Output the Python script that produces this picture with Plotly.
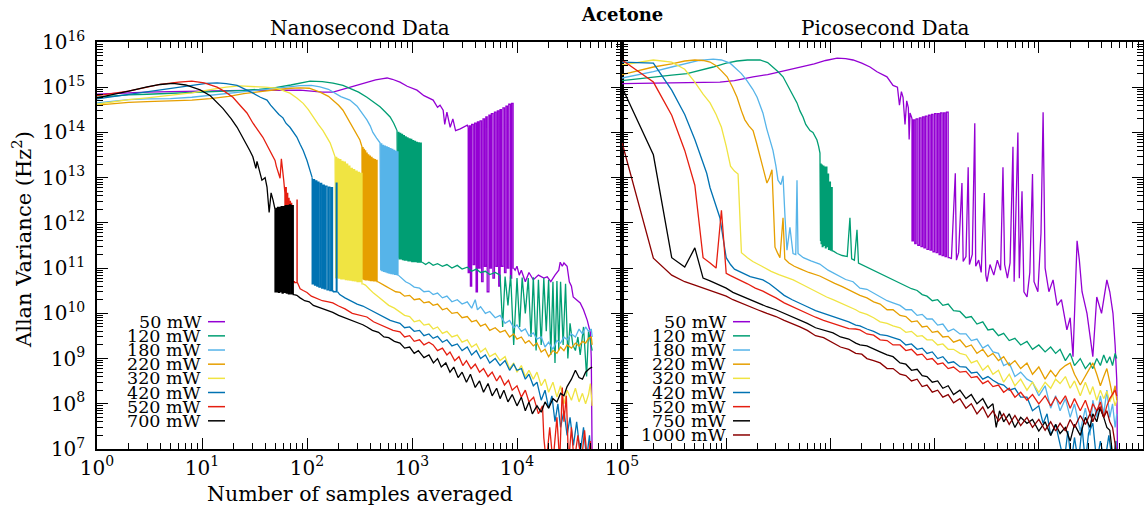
import plotly.graph_objects as go

# ---------------- labels / colours ----------------
NS_LABELS = ["50 mW", "120 mW", "180 mW", "220 mW", "320 mW", "420 mW", "520 mW", "700 mW"]
PS_LABELS = ["50 mW", "120 mW", "180 mW", "220 mW", "320 mW", "420 mW", "520 mW", "750 mW", "1000 mW"]
NS_COLORS = ["#9400D3", "#009E73", "#56B4E9", "#E69F00", "#F0E442", "#0072B2", "#E51E10", "#000000"]
PS_COLORS = ["#9400D3", "#009E73", "#56B4E9", "#E69F00", "#F0E442", "#0072B2", "#E51E10", "#000000", "#8B0000"]
X_TICKS = [1, 10, 100, 1000, 10000, 100000]
X_TICKTEXT = ["10<sup>0</sup>", "10<sup>1</sup>", "10<sup>2</sup>", "10<sup>3</sup>", "10<sup>4</sup>", "10<sup>5</sup>"]
Y_TICKS = [1e7, 1e8, 1e9, 1e10, 1e11, 1e12, 1e13, 1e14, 1e15, 1e16]
Y_TICKTEXT = ["10<sup>%d</sup>" % e for e in range(7, 17)]

# ---------------- Nanosecond data (samples, Allan variance) ----------------
NS_50 = [(1, 7e14), (2, 7.6e14), (3, 7.8e14), (5, 8e14), (8, 8.2e14), (12, 8.3e14), (18, 8.4e14), (25, 8.5e14),
         (35, 8.5e14), (50, 8.6e14), (70, 8.6e14), (86, 8.6e14), (110, 8.2e14), (140, 7.8e14), (177, 7.8e14),
         (220, 9e14), (256, 1e15), (310, 1.15e15), (372, 1.3e15), (450, 1.45e15), (530, 1.55e15), (579, 1.6e15),
         (650, 1.5e15), (768, 1.3e15), (900, 1.05e15), (1115, 8.6e14), (1300, 6.5e14), (1590, 5.2e14),
         (1750, 3.6e14), (1850, 4e14), (1980, 3.1e14), (2050, 1.5e14), (2150, 2.8e14), (2310, 1.3e14),
         (2450, 2e14), (2600, 1.1e14), (2880, 1.2e14), (3100, 1.3e14), (3360, 1.45e14),
         (3430, 1.3e14), (3500, 8e10), (3600, 1.4e14), (3700, 4e10), (3830, 1.5e14), (3950, 1.2e11),
         (4080, 1.6e14), (4200, 3e10), (4320, 1.7e14), (4450, 1e11), (4600, 1.8e14), (4750, 5e10),
         (4900, 2e14), (5050, 1.1e11), (5200, 2.2e14), (5400, 3e10), (5540, 2.4e14), (5700, 1e11),
         (5900, 2.6e14), (6100, 6e10), (6300, 2.8e14), (6500, 1.1e11), (6700, 3e14), (6900, 4e10),
         (7100, 3.2e14), (7350, 1.1e11), (7600, 3.5e14), (7850, 8e10), (8100, 3.8e14), (8350, 1e11),
         (8650, 4.2e14), (8900, 6e10), (9180, 4.4e14), (9300, 1e11),
         (9600, 9e10), (1e4, 1.1e11), (1.05e4, 7e10), (1.1e4, 9e10), (1.2e4, 5e10), (1.3e4, 8e10),
         (1.43e4, 5.5e10), (1.6e4, 7e10), (1.8e4, 6e10), (1.94e4, 6.4e10), (2.1e4, 5e10), (2.3e4, 7e10),
         (2.5e4, 9e10), (2.58e4, 1.35e11), (2.7e4, 1.1e11), (2.8e4, 1.3e11), (3e4, 1.1e11), (3.15e4, 5e10),
         (3.3e4, 4e10), (3.43e4, 2.3e10), (3.7e4, 2e10), (4e4, 1.7e10), (4.3e4, 1.2e10), (4.67e4, 7e9),
         (5e4, 3.7e9), (5.1e4, 1e9), (5.2e4, 5e6)]

NS_120 = [(1, 6e14), (2, 6.8e14), (3, 7e14), (5, 7.3e14), (8, 7.6e14), (12, 7.9e14), (18, 8.2e14), (25, 8.5e14),
          (35, 9e14), (50, 9.8e14), (70, 1.12e15), (86, 1.23e15), (107, 1.37e15), (140, 1.33e15), (177, 1.23e15),
          (220, 1.1e15), (256, 9.6e14), (310, 7.8e14), (372, 6e14), (430, 4.6e14), (496, 3.7e14), (560, 2.8e14),
          (619, 2.2e14), (670, 1.6e14), (720, 1.1e14),
          (735, 1.7e11), (750, 1e14), (765, 1.6e11), (780, 9.5e13), (796, 1.6e11), (812, 9e13), (828, 1.55e11),
          (845, 8.5e13), (862, 1.5e11), (880, 8e13), (898, 1.5e11), (916, 7.6e13), (935, 1.45e11), (955, 7.2e13),
          (975, 1.45e11), (995, 7e13), (1015, 1.4e11), (1036, 6.6e13), (1057, 1.4e11), (1080, 6.3e13),
          (1100, 1.4e11), (1125, 6e13), (1150, 1.35e11), (1175, 5.9e13), (1200, 1.35e11), (1225, 5.8e13),
          (1250, 1.35e11),
          (1350, 1.2e11), (1450, 1.35e11), (1590, 1.15e11), (1750, 1.25e11), (1950, 1.1e11), (2150, 1.2e11),
          (2400, 1e11), (2700, 1.15e11), (3000, 9.5e10), (3360, 1.05e11), (3700, 8.5e10), (4100, 9.5e10),
          (4500, 8e10), (5000, 8.5e10), (5500, 7.2e10), (6200, 8e10), (6900, 7e10), (7300, 5e9), (7700, 6.5e10),
          (8200, 1.5e10), (8700, 7e10), (9300, 2e9), (1e4, 6e10), (1.06e4, 5e9), (1.12e4, 6.2e10), (1.2e4, 1e10),
          (1.28e4, 6e10), (1.36e4, 3e9), (1.43e4, 6.3e10), (1.52e4, 1.5e9), (1.6e4, 5.5e10), (1.7e4, 2e9),
          (1.8e4, 6e10), (1.9e4, 4e9), (2e4, 5.5e10), (2.1e4, 1.2e9), (2.2e4, 5e10), (2.3e4, 8e8),
          (2.4e4, 5.2e10), (2.5e4, 1.5e9), (2.6e4, 5e10), (2.75e4, 2e9), (2.9e4, 4.5e10), (3.05e4, 1e9),
          (3.2e4, 6e9), (3.4e4, 2e9), (3.6e4, 1.5e9), (3.8e4, 3e9), (4e4, 1.2e9), (4.3e4, 5e9), (4.6e4, 4e8),
          (4.8e4, 4e9), (5e4, 2.5e9), (5.2e4, 1.5e9)]

NS_180 = [(1, 4.5e14), (2, 5.3e14), (3, 5.5e14), (5, 5.6e14), (8, 6e14), (12, 6.6e14), (18, 7.3e14), (25, 8e14),
          (35, 8.8e14), (50, 9.5e14), (70, 1.02e15), (86, 1.08e15), (110, 1.1e15), (133, 1.02e15), (160, 9e14),
          (177, 7.8e14), (210, 6.2e14), (256, 5.2e14), (300, 3.8e14), (319, 3.1e14), (350, 2.3e14),
          (372, 1.9e14), (400, 1.4e14), (424, 1e14), (460, 7.5e13), (496, 5.9e13),
          (505, 9e10), (515, 5.6e13), (525, 8.8e10), (535, 5.2e13), (546, 8.5e10), (557, 5e13), (568, 8.3e10),
          (580, 4.8e13), (592, 8e10), (604, 4.6e13), (617, 7.8e10), (630, 4.4e13), (643, 7.6e10), (656, 4.2e13),
          (670, 7.5e10), (684, 4e13), (698, 7.3e10), (712, 3.8e13), (726, 7.2e10), (735, 3.7e13), (740, 7e10),
          (800, 6e10), (870, 5e10), (950, 4.5e10), (1050, 3.8e10), (1180, 3.6e10), (1300, 3e10), (1450, 3.1e10),
          (1590, 2.6e10), (1750, 2.8e10), (1950, 2.2e10), (2150, 2.4e10), (2400, 1.8e10), (2700, 2e10),
          (3000, 1.6e10), (3360, 1.8e10), (3700, 1.3e10), (4000, 2e10), (4200, 1.2e10), (4500, 1.4e10),
          (5000, 1e10), (5500, 1.1e10), (6200, 8e9), (6900, 9e9), (7700, 6e9), (8500, 7e9), (9300, 4.8e9),
          (1e4, 5.5e9), (1.1e4, 4e9), (1.2e4, 4.5e9), (1.3e4, 3.2e9), (1.43e4, 3.7e9), (1.55e4, 2.7e9),
          (1.7e4, 3e9), (1.85e4, 1.8e9), (2e4, 2.3e9), (2.2e4, 1.6e9), (2.4e4, 2.5e9), (2.6e4, 2.2e9),
          (2.8e4, 3e9), (3e4, 2.6e9), (3.3e4, 3.5e9), (3.6e4, 3e9), (3.9e4, 4.5e9), (4.2e4, 3.5e9),
          (4.5e4, 5e9), (4.8e4, 4e9), (5.1e4, 4.5e9), (5.2e4, 3e9)]

NS_220 = [(1, 4e14), (2, 4.6e14), (3, 4.8e14), (5, 5e14), (8, 5.2e14), (12, 5.6e14), (18, 6.3e14), (25, 7.2e14),
          (35, 8e14), (50, 8.8e14), (70, 9.5e14), (86, 9.7e14), (105, 9.5e14), (133, 7.8e14), (160, 6.3e14),
          (177, 5.2e14), (200, 4e14), (220, 3.1e14), (245, 2e14), (274, 1.3e14), (300, 9e13), (319, 6.8e13),
          (334, 4.8e13),
          (338, 5.8e10), (342, 4.6e13), (347, 5.7e10), (352, 4.2e13), (357, 5.6e10), (362, 3.9e13), (368, 5.5e10),
          (374, 3.5e13), (380, 5.5e10), (387, 3.2e13), (394, 5.4e10), (401, 3e13), (408, 5.3e10), (416, 2.8e13),
          (424, 5.3e10), (432, 2.6e13), (440, 5.2e10), (448, 2.5e13), (456, 5.2e10), (465, 2.4e13), (474, 5e10),
          (500, 4.6e10), (560, 4e10), (620, 3.5e10), (700, 3e10), (768, 2.9e10), (850, 2.4e10), (950, 2.5e10),
          (1050, 2e10), (1180, 2.1e10), (1300, 1.7e10), (1450, 1.8e10), (1590, 1.5e10), (1750, 1.6e10),
          (1950, 1.2e10), (2150, 1.3e10), (2400, 1e10), (2700, 1.05e10), (3000, 8e9), (3360, 8.5e9),
          (3700, 6.5e9), (4100, 7e9), (4500, 5.2e9), (5000, 5.8e9), (5500, 4.2e9), (6200, 4.8e9), (6900, 3.8e9),
          (7700, 4.2e9), (8500, 3e9), (9300, 3.5e9), (1e4, 2.7e9), (1.1e4, 3e9), (1.2e4, 2.2e9), (1.3e4, 2.5e9),
          (1.43e4, 1.9e9), (1.55e4, 2.2e9), (1.7e4, 1.4e9), (1.85e4, 1.6e9), (2e4, 1.1e9), (2.2e4, 1.5e9),
          (2.4e4, 1.3e9), (2.6e4, 1.8e9), (2.8e4, 1.5e9), (3e4, 2e9), (3.3e4, 1.7e9), (3.6e4, 2.2e9),
          (3.9e4, 1.9e9), (4.2e4, 2.4e9), (4.5e4, 2.2e9), (4.8e4, 2.8e9), (5.1e4, 3e9), (5.2e4, 2e9)]

NS_320 = [(1, 4.2e14), (2, 5.3e14), (3, 5.8e14), (5, 6.5e14), (8, 7.5e14), (12, 8.8e14), (17, 1e15), (23, 1.07e15),
          (30, 1.05e15), (40, 1e15), (51, 9.6e14), (60, 8.5e14), (68.8, 7.4e14), (80, 5.8e14), (92, 4.4e14),
          (103, 3.2e14), (114, 2.2e14), (128, 1.5e14), (142, 1.1e14), (155, 8e13), (166, 5.9e13), (175, 4.2e13),
          (185, 2.9e13),
          (188, 6e10), (192, 2.8e13), (196, 6.2e10), (200, 2.6e13), (205, 6e10), (210, 2.5e13), (215, 5.8e10),
          (220, 2.3e13), (226, 5.8e10), (232, 2.2e13), (238, 5.6e10), (244, 2e13), (250, 5.5e10), (256, 1.8e13),
          (263, 5.4e10), (270, 1.6e13), (277, 5.3e10), (284, 1.5e13), (292, 5.2e10), (300, 1.4e13), (308, 5e10),
          (316, 1.3e13), (325, 5e10), (334, 1.25e13), (340, 4.5e10),
          (360, 4.2e10), (390, 3.5e10), (430, 2.8e10), (480, 2.3e10), (540, 1.8e10), (600, 1.5e10),
          (680, 1.3e10), (768, 1.07e10), (850, 9e9), (950, 8.5e9), (1050, 6.5e9), (1180, 7e9), (1300, 5.5e9),
          (1450, 5.8e9), (1590, 4.5e9), (1750, 5e9), (1950, 3.6e9), (2150, 4e9), (2400, 3e9), (2700, 3.3e9),
          (3000, 2.3e9), (3360, 2.6e9), (3700, 1.8e9), (4100, 2.1e9), (4500, 1.4e9), (5000, 1.7e9),
          (5500, 1.1e9), (6200, 1.3e9), (6900, 9e8), (7700, 1.1e9), (8500, 6e8), (9300, 8e8), (1e4, 5e8),
          (1.1e4, 7e8), (1.2e4, 4e8), (1.3e4, 5.5e8), (1.43e4, 3.5e8), (1.55e4, 5e8), (1.7e4, 2.5e8),
          (1.85e4, 3.5e8), (2e4, 1.8e8), (2.2e4, 3e8), (2.4e4, 1.4e8), (2.6e4, 2.5e8), (2.8e4, 1e8),
          (3e4, 2e8), (3.3e4, 1.2e8), (3.6e4, 2.2e8), (3.9e4, 1.1e8), (4.2e4, 1.7e8), (4.5e4, 1e8),
          (4.8e4, 1.6e8), (5e4, 2.8e8), (5.2e4, 9e7)]

NS_420 = [(1, 5.5e14), (2, 7e14), (3, 8e14), (5, 9.5e14), (8, 1.12e15), (11, 1.22e15), (13.9, 1.25e15),
          (17, 1.2e15), (21.6, 1.1e15), (26, 9e14), (30.6, 7.4e14), (36, 6e14), (41.6, 5.2e14), (45, 4e14),
          (49.6, 3.1e14), (54, 2.5e14), (59, 2.1e14), (63, 1.6e14), (68.8, 1.3e14), (74, 1e14), (80, 7.9e13),
          (86, 5.5e13), (92, 4e13), (100, 2.4e13), (106, 1.5e13),
          (112, 1e13), (115, 4.5e10), (118, 9e12), (121, 4.2e10), (124, 8.5e12), (127, 4e10), (130, 8e12),
          (134, 3.8e10), (138, 7.5e12), (142, 3.6e10), (146, 6.8e12), (150, 3.5e10), (155, 6.5e12),
          (160, 3.3e10), (165, 6.2e12), (170, 3.2e10), (175, 6e12), (179, 3.1e10), (190, 3e10), (193, 7.6e12),
          (196, 3e10),
          (205, 2.6e10), (230, 2.2e10), (260, 1.9e10), (300, 1.6e10), (340, 1.45e10), (372, 1.3e10),
          (420, 1.1e10), (480, 9.5e9), (550, 8e9), (620, 7e9), (700, 6.4e9), (768, 6e9), (850, 4.8e9),
          (950, 5e9), (1050, 4e9), (1180, 4.2e9), (1300, 3.2e9), (1450, 3.5e9), (1590, 2.8e9), (1750, 3.1e9),
          (1950, 2.3e9), (2150, 2.6e9), (2400, 1.9e9), (2700, 2.1e9), (3000, 1.5e9), (3360, 1.8e9),
          (3700, 1.2e9), (4100, 1.5e9), (4500, 1e9), (5000, 1.2e9), (5500, 8e8), (6200, 1e9), (6900, 7e8),
          (7700, 9e8), (8500, 5.5e8), (9300, 7.5e8), (1e4, 5.5e8), (1.1e4, 6e8), (1.2e4, 3.5e8), (1.3e4, 4.5e8),
          (1.43e4, 2.5e8), (1.55e4, 3e8), (1.7e4, 1.2e8), (1.85e4, 2e8), (2e4, 8e7), (2.15e4, 1.5e8),
          (2.3e4, 4e7), (2.45e4, 1e8), (2.6e4, 3e7), (2.8e4, 7e7), (3e4, 2e7), (3.2e4, 5e7), (3.45e4, 1.2e7),
          (3.7e4, 4e7), (4e4, 8e6), (4.3e4, 3e7), (4.6e4, 6e6), (4.9e4, 2e7), (5.1e4, 5e6)]

NS_520 = [(1, 6.5e14), (1.5, 7.3e14), (2, 8.2e14), (3, 1e15), (4, 1.15e15), (6, 1.3e15), (8, 1.37e15),
          (10.5, 1.25e15), (13.9, 1e15), (16.5, 8e14), (19.7, 6e14), (23, 4e14), (26.8, 2.7e14), (30.6, 1.6e14),
          (34, 1.15e14), (38, 7.8e13), (42, 5e13), (46, 3.2e13), (48, 2.6e13), (49.6, 2.4e13), (51, 1.8e13),
          (52.9, 1.4e13), (55.4, 9.7e12), (57, 2.6e13), (58.5, 1.2e13), (60, 8.8e12), (61.6, 4.6e12),
          (62.5, 5.5e10), (63.5, 6e12), (64.5, 5.5e10), (65.5, 4.5e12), (66.5, 5.3e10), (67.5, 3.5e12),
          (68.5, 5.2e10), (69.5, 3e12), (70.5, 5.2e10), (71.5, 2.7e12), (72.5, 5e10), (76, 5e10),
          (80.3, 4.8e10), (80.6, 3.2e12), (81, 4.8e10),
          (86, 3.5e10), (92, 3.2e10), (100, 2.9e10), (110, 2.4e10), (125, 2.1e10), (140, 1.9e10),
          (160, 1.8e10), (176, 1.7e10), (200, 1.45e10), (230, 1.25e10), (270, 1e10), (320, 9e9), (372, 8.3e9),
          (430, 6.5e9), (500, 5.5e9), (580, 4.8e9), (660, 4.2e9), (768, 3.9e9), (850, 3e9), (950, 3.2e9),
          (1050, 2.4e9), (1180, 2.6e9), (1300, 2e9), (1450, 2.3e9), (1590, 2e9), (1750, 1.5e9), (1950, 1.7e9),
          (2150, 1.2e9), (2300, 1.4e9), (2550, 9e8), (2800, 1.1e9), (3050, 7e8), (3300, 9e8), (3650, 6e8),
          (4000, 7.5e8), (4400, 5e8), (4800, 6e8), (5300, 4e8), (5800, 5e8), (6400, 3.2e8), (6900, 4.2e8),
          (7600, 2.6e8), (8300, 3.3e8), (9000, 2e8), (1e4, 2.5e8), (1.1e4, 1.4e8), (1.2e4, 2e8), (1.3e4, 1.1e8),
          (1.44e4, 1.4e8), (1.6e4, 6e7), (1.75e4, 9e7), (1.8e4, 1.8e7), (1.9e4, 5e6), (2.05e4, 3e7),
          (2.2e4, 5e6), (2.4e4, 5e7), (2.55e4, 5e6), (2.7e4, 2.3e8), (2.8e4, 4e7), (2.95e4, 1.5e8),
          (3.1e4, 5e6), (3.3e4, 3e7), (3.5e4, 5e6), (3.8e4, 2e7), (4.1e4, 5e6), (4.4e4, 2.6e7), (4.7e4, 5e6),
          (5e4, 1.5e7), (5.2e4, 4e6)]

NS_700 = [(1, 5.8e14), (1.5, 7e14), (2, 8.2e14), (3, 1.02e15), (4, 1.15e15), (5.3, 1.22e15), (7, 1.12e15),
          (9.6, 8.7e14), (12, 6.5e14), (15.8, 3.4e14), (19, 2e14), (21.6, 1.3e14), (24, 8.5e13), (26.8, 5.5e13),
          (28.5, 4e13), (30.5, 2.9e13), (32.6, 1.6e13), (33.4, 2.3e13), (35.7, 1.2e13), (37.2, 8.8e12),
          (39.9, 1e13), (41.6, 6.2e12), (43.6, 1.7e12), (45.5, 4.6e12), (47.5, 3.2e12),
          (49.6, 2e12), (50.5, 3e10), (51.5, 2.1e12), (52.5, 3e10), (53.5, 2.2e12), (54.5, 2.9e10),
          (55.5, 2.2e12), (56.8, 3e10), (58, 2.3e12), (59.3, 2.8e10), (60.5, 2.3e12), (62, 2.9e10),
          (63.5, 2.4e12), (65, 2.8e10), (66.5, 2.4e12), (68, 2.7e10), (70, 2.5e12), (72, 2.7e10),
          (74, 2.4e12), (75.5, 2.6e10),
          (80, 2.5e10), (86, 2.2e10), (95, 1.9e10), (105, 1.8e10), (115, 1.5e10), (130, 1.35e10), (150, 1.2e10),
          (176, 1.05e10), (200, 9e9), (230, 8e9), (260, 7.3e9), (300, 6.3e9), (340, 5.6e9), (372, 5e9),
          (420, 4.2e9), (480, 3.8e9), (540, 3e9), (600, 2.9e9), (680, 2.4e9), (768, 2.2e9), (850, 1.7e9),
          (950, 1.8e9), (1050, 1.3e9), (1150, 1.5e9), (1300, 1.05e9), (1450, 1.2e9), (1600, 8e8), (1750, 1e9),
          (1900, 6.5e8), (2100, 8e8), (2300, 5e8), (2500, 6.5e8), (2750, 3.8e8), (3000, 5e8), (3300, 3e8),
          (3600, 4.5e8), (4000, 2.3e8), (4400, 3.2e8), (4800, 1.8e8), (5300, 2.8e8), (5800, 1.5e8),
          (6400, 2.2e8), (6900, 1.3e8), (7500, 2e8), (8200, 1.1e8), (9000, 1.6e8), (1e4, 9e7), (1.1e4, 1.4e8),
          (1.2e4, 7e7), (1.3e4, 1.1e8), (1.4e4, 6e7), (1.55e4, 9e7), (1.7e4, 6.5e7), (1.85e4, 1.1e8),
          (2e4, 8e7), (2.2e4, 1.3e8), (2.4e4, 1.1e8), (2.6e4, 1.7e8), (2.8e4, 1.5e8), (3e4, 2.4e8),
          (3.3e4, 3.5e8), (3.6e4, 5.5e8), (3.9e4, 3.8e8), (4.2e4, 3.5e8), (4.5e4, 5e8), (4.9e4, 6e8),
          (5.2e4, 6.5e8)]

# sample-count ranges where each nanosecond series flips back and forth (spike bands)
NS_BANDS = [(3430, 9300), (735, 1250), (505, 740), (338, 474), (188, 340), (112, 196), (62.5, 81), (49.6, 75.5)]

# ---------------- Picosecond data (samples, Allan variance) ----------------
PS_50 = [(1, 1.2e15), (2, 1.22e15), (4, 1.25e15), (8.7, 1.3e15), (12, 1.4e15), (18.1, 1.7e15), (25, 1.9e15),
         (32.8, 2.2e15), (43, 2.5e15), (54.6, 2.8e15), (70, 3.3e15), (90, 3.9e15), (116, 4.4e15), (140, 4.3e15),
         (165, 4e15), (200, 3.4e15), (240, 2.8e15), (280, 2.2e15), (349, 1.7e15), (399, 1.1e15), (440, 1e15),
         (460, 4e14), (480, 8e14), (498, 6e14), (520, 1.5e14), (540, 5e14), (560, 3.5e14), (570, 7e13),
         (581, 2.7e14), (600, 2.2e14),
         (607, 2e14), (625, 4e11), (645, 1.9e14), (665, 3.5e11), (690, 2e14), (715, 3.2e11), (740, 2.1e14),
         (765, 3e11), (790, 2.2e14), (815, 2.8e11), (845, 2.3e14), (875, 2.6e11), (905, 2.4e14), (935, 2.5e11),
         (965, 2.5e14), (1000, 2.3e11), (1035, 2.6e14), (1070, 2.2e11), (1105, 2.6e14), (1140, 2e11),
         (1180, 2.7e14), (1220, 1.9e11), (1260, 2.7e14), (1300, 1.8e11), (1350, 2.8e14), (1406, 1.7e11),
         (1450, 1.6e11), (1580, 1.25e13), (1620, 1.5e11), (1700, 2.2e11), (1830, 7.6e12), (1880, 1.4e11),
         (2000, 1.8e11), (2100, 1.7e13), (2160, 1.2e11), (2300, 2e11), (2430, 1.6e14), (2480, 1.1e11),
         (2650, 1.5e11), (2800, 8e10), (3000, 4.6e12), (3100, 7e10), (3185, 5e10), (3400, 1.2e11),
         (3700, 7e10), (4000, 1.5e11), (4300, 9e10), (4530, 1.7e13), (4700, 1.2e11), (5000, 6e10),
         (5300, 1.3e11), (5650, 4.8e13), (5800, 5e10), (6300, 1e14), (6500, 6e10), (6900, 5e12), (7200, 3e10),
         (7710, 2.3e10), (8200, 8e10), (8700, 1.2e13), (9000, 5e10), (9800, 3e10), (1.05e4, 6e11),
         (1.1e4, 2.8e14), (1.15e4, 1e11), (1.25e4, 3e10), (1.37e4, 5.5e10), (1.5e4, 1.5e10), (1.65e4, 2e10),
         (1.86e4, 4.3e9), (2e4, 8e9), (2.13e4, 1.1e9), (2.25e4, 5e10), (2.33e4, 4e11), (2.45e4, 1.5e11),
         (2.6e4, 3e10), (2.9e4, 1e10), (3.1e4, 3e9), (3.3e4, 1.1e9), (3.6e4, 2.3e10), (4e4, 1e10),
         (4.5e4, 5.5e10), (4.8e4, 3e10), (5.15e4, 1e10), (5.4e4, 2e9), (5.6e4, 3.3e8), (5.7e4, 5e6)]

PS_120 = [(1, 1.4e15), (2, 1.7e15), (3, 1.85e15), (4.2, 2e15), (5.5, 2.3e15), (7.5, 2.8e15), (10, 3.4e15),
          (12.7, 3.8e15), (16, 4e15), (21.1, 4e15), (25, 3.5e15), (28.1, 2.8e15), (31.5, 2.2e15), (35.1, 1.7e15),
          (38, 1.2e15), (40.9, 8.6e14), (44, 6e14), (47.8, 4.5e14), (51, 3e14), (54.6, 2.2e14), (58, 1.5e14),
          (63.7, 1.1e14), (68, 1e14), (74.3, 6.8e13), (77, 5e13), (79.4, 3.5e13),
          (80.5, 4e11), (81.5, 2e13), (82.5, 3.5e11), (83.5, 1.9e13), (85, 3e11), (86.5, 1.8e13), (88, 3.2e11),
          (89.5, 1.7e13), (91, 2.8e11), (92.5, 1.7e13), (94, 3e11), (96, 1.2e13), (98, 2.6e11), (100, 8e12),
          (102, 2.5e11), (104, 6e12), (106, 2.4e11),
          (116, 2.1e11), (130, 1.9e11), (145, 1.8e11), (154, 1.3e12), (160, 1.6e11), (170, 1.5e11),
          (180, 7e11), (186, 1.3e11), (200, 1.2e11), (230, 1e11), (260, 9e10), (300, 7.5e10), (350, 6.5e10),
          (399, 5.5e10), (466, 4.6e10), (530, 4e10), (600, 3.5e10), (680, 3.2e10), (760, 2.6e10), (845, 2.4e10),
          (950, 1.9e10), (1070, 2e10), (1200, 1.5e10), (1350, 1.6e10), (1520, 1.15e10), (1750, 1.1e10),
          (2000, 8e9), (2250, 8.5e9), (2550, 5.8e9), (2900, 6.5e9), (3250, 4.3e9), (3630, 4.5e9), (4100, 3.2e9),
          (4600, 3.6e9), (5200, 2.5e9), (5900, 2.8e9), (6700, 2e9), (7700, 2.4e9), (8700, 1.6e9), (1e4, 2e9),
          (1.15e4, 1.4e9), (1.3e4, 1.8e9), (1.45e4, 1.3e9), (1.6e4, 1.6e9), (1.8e4, 9e8), (2e4, 1.3e9),
          (2.2e4, 7e8), (2.5e4, 1e9), (2.8e4, 6e8), (3.1e4, 8e8), (3.3e4, 6e8), (3.6e4, 1e9), (3.9e4, 7e8),
          (4.2e4, 1.2e9), (4.5e4, 8e8), (4.8e4, 1.1e9), (5.1e4, 7e8), (5.4e4, 1.3e9), (5.6e4, 1e9)]

PS_180 = [(1, 1.6e15), (2, 2.2e15), (3, 2.8e15), (4.2, 3.4e15), (5.5, 3.9e15), (7.5, 4.2e15), (9, 4e15),
          (10.9, 3.4e15), (12.5, 2.6e15), (14, 2e15), (15.8, 1.4e15), (18, 9e14), (19.8, 6e14), (22.5, 2.7e14),
          (24.5, 1.2e14), (26.3, 6.8e13), (28.1, 4e13), (30, 1.8e13), (31.4, 8.8e12), (33.5, 7e12),
          (35.1, 1.1e13), (36.7, 1.3e12), (38.3, 2.5e11), (40.9, 8e11), (43.8, 2.1e11), (46.5, 2e11),
          (47.8, 8.8e12), (48.9, 2.1e11), (55, 1.7e11), (65, 1.45e11), (79, 1.23e11), (95, 9e10), (115, 7e10),
          (140, 5.6e10), (165, 5e10), (192, 3.6e10), (224, 3.4e10), (260, 2.8e10), (300, 2.4e10), (350, 1.9e10),
          (399, 1.7e10), (466, 1.5e10), (530, 1.2e10), (600, 1.2e10), (680, 9e9), (760, 9.5e9), (845, 7.5e9),
          (950, 7.5e9), (1070, 5.5e9), (1200, 5.8e9), (1350, 4e9), (1520, 4.5e9), (1750, 3.5e9), (2000, 3.5e9),
          (2250, 2.5e9), (2550, 2.7e9), (2900, 1.7e9), (3250, 2e9), (3630, 1.4e9), (4100, 1.3e9), (4600, 7e8),
          (5200, 8e8), (5900, 4e8), (6700, 5e8), (7700, 3.5e8), (8700, 3e8), (1e4, 1.5e8), (1.15e4, 2.5e8),
          (1.3e4, 8e7), (1.45e4, 1.5e8), (1.6e4, 7e7), (1.8e4, 1.3e8), (2e4, 5e7), (2.2e4, 1e8), (2.5e4, 2.5e7),
          (2.8e4, 8e7), (3.1e4, 2e7), (3.3e4, 1.2e8), (3.6e4, 5e7), (3.9e4, 1.5e8), (4.2e4, 6e7), (4.5e4, 2e8),
          (4.8e4, 5e7), (5.1e4, 1e8), (5.4e4, 3e7), (5.6e4, 6e7)]

PS_220 = [(1, 1.9e15), (2, 2.8e15), (3, 3.3e15), (4, 3.8e15), (5, 4e15), (6, 3.9e15), (7, 3.6e15), (8, 3e15),
          (9, 2.3e15), (10.2, 1.7e15), (11.5, 1e15), (12.7, 6e14), (14, 3e14), (15.1, 1.9e14), (16.5, 1.4e14),
          (18.1, 1.1e14), (19.5, 6e13), (21.1, 2.9e13), (23, 1.3e13), (24.6, 7.6e12), (26, 1e13),
          (27.5, 1.5e13), (28.1, 4.2e12), (29.4, 2.9e11), (31, 2.2e11), (32.8, 1.7e11), (35.1, 1.3e12),
          (36.5, 1.6e11), (40, 1.3e11), (45, 1.1e11), (52, 9.5e10), (62, 8e10), (79, 6.7e10), (93, 5.5e10),
          (110, 4.6e10), (130, 3.9e10), (154, 3.2e10), (175, 2.8e10), (192, 2.5e10), (224, 2.2e10),
          (260, 1.8e10), (300, 1.6e10), (350, 1.2e10), (399, 1.2e10), (466, 9e9), (530, 8.5e9), (600, 6.5e9),
          (680, 6.8e9), (760, 5e9), (845, 5.2e9), (950, 3.8e9), (1070, 4e9), (1200, 3e9), (1350, 3.1e9),
          (1520, 2.3e9), (1750, 2.6e9), (2000, 1.8e9), (2250, 2e9), (2550, 1.3e9), (2900, 1.6e9), (3250, 1.1e9),
          (3630, 1.3e9), (4100, 9e8), (4600, 1.1e9), (5200, 7e8), (5900, 9e8), (6700, 6e8), (7700, 8e8),
          (8700, 4.5e8), (1e4, 6.5e8), (1.15e4, 3.5e8), (1.3e4, 5.5e8), (1.45e4, 4e8), (1.6e4, 5.6e8),
          (1.8e4, 7e8), (2e4, 8e8), (2.2e4, 4.5e8), (2.5e4, 2.6e8), (2.8e4, 4e8), (3.1e4, 6e8), (3.3e4, 8e8),
          (3.6e4, 4.5e8), (3.9e4, 2.5e8), (4.2e4, 4e8), (4.5e4, 6e8), (4.8e4, 3e8), (5.1e4, 1.5e8),
          (5.4e4, 2.5e8), (5.6e4, 1.2e8)]

PS_320 = [(1, 3.1e15), (2, 4e15), (3, 3.6e15), (4, 2.5e15), (5, 1.3e15), (6, 7e14), (7, 4.5e14), (8, 2.5e14),
          (9, 1.3e14), (10, 5e13), (11, 1.8e13), (12, 1.4e13), (13, 1.2e13), (14, 2.2e11), (16, 1.7e11),
          (18, 1.4e11), (22, 1.1e11), (27, 8.5e10), (32, 7.2e10), (38, 6.3e10), (44, 5.5e10), (52, 4.5e10),
          (60, 3.8e10), (68, 3.2e10), (80, 2.6e10), (92, 2.3e10), (106, 2e10), (125, 1.7e10), (150, 1.4e10),
          (175, 1.2e10), (192, 1.06e10), (224, 9.5e9), (260, 8e9), (300, 6.5e9), (350, 6e9), (399, 5.3e9),
          (466, 4.8e9), (530, 3.8e9), (600, 4e9), (680, 3.1e9), (760, 3.2e9), (845, 2.6e9), (950, 2.6e9),
          (1070, 2e9), (1200, 2.1e9), (1350, 1.6e9), (1520, 1.6e9), (1750, 1.3e9), (2000, 1.2e9), (2250, 8e8),
          (2550, 9e8), (2900, 5.5e8), (3250, 7e8), (3630, 4.5e8), (4100, 5.5e8), (4600, 3e8), (5200, 4.5e8),
          (5900, 2.5e8), (6700, 3.5e8), (7700, 2e8), (8700, 3e8), (1e4, 1.8e8), (1.15e4, 3e8), (1.3e4, 2.2e8),
          (1.45e4, 3.5e8), (1.6e4, 2.8e8), (1.8e4, 4e8), (2e4, 2.2e8), (2.2e4, 3.2e8), (2.5e4, 1.5e8),
          (2.8e4, 3e8), (3.1e4, 1.6e8), (3.3e4, 2.4e8), (3.6e4, 1.2e8), (3.9e4, 2e8), (4.2e4, 1.3e8),
          (4.5e4, 1.9e8), (4.8e4, 1.1e8), (5.1e4, 1.6e8), (5.4e4, 9e7), (5.6e4, 1.2e8)]

PS_420 = [(1, 3.6e15), (2, 3.4e15), (3, 8.6e14), (4, 2.5e14), (5, 7e13), (6, 2e13), (6.5, 1.25e13), (7, 6e12),
          (8, 2.5e12), (8.7, 1.3e12), (10, 1.7e11), (11, 1.2e11), (12, 9.5e10), (14, 8e10), (17, 6.5e10),
          (22.5, 5.5e10), (26, 4.5e10), (30, 3.5e10), (36, 2.5e10), (43, 2e10), (51, 1.7e10), (60, 1.4e10),
          (72, 1.15e10), (86, 1e10), (106, 8.8e9), (125, 7.5e9), (150, 6.5e9), (175, 5.5e9), (192, 5.3e9),
          (224, 4.5e9), (260, 4e9), (300, 3.4e9), (350, 3.2e9), (399, 2.9e9), (466, 2.6e9), (530, 2e9),
          (600, 2.1e9), (680, 1.6e9), (760, 1.7e9), (845, 1.3e9), (950, 1.4e9), (1070, 1e9), (1200, 1.1e9),
          (1350, 8e8), (1520, 8.5e8), (1750, 6.6e8), (2000, 6.5e8), (2250, 4.8e8), (2550, 5e8), (2900, 3.5e8),
          (3250, 4e8), (3630, 3.3e8), (4100, 2.8e8), (4600, 2.6e8), (5200, 2e8), (5900, 2.2e8), (6700, 1.4e8),
          (7700, 1.4e8), (8700, 7e7), (1e4, 9e7), (1.1e4, 3.7e7), (1.2e4, 6e7), (1.3e4, 2e7), (1.45e4, 3.5e7),
          (1.6e4, 1.3e7), (1.75e4, 5e6), (1.9e4, 2.5e7), (2.05e4, 5e6), (2.2e4, 1.8e7), (2.4e4, 5e6),
          (2.6e4, 3e7), (2.8e4, 5e6), (3e4, 2.2e7), (3.3e4, 3.7e7), (3.6e4, 5e6), (3.9e4, 1.5e7), (4.3e4, 5e6),
          (4.7e4, 2e7), (5.1e4, 5e6), (5.5e4, 1.5e7), (5.6e4, 5e6)]

PS_520 = [(1, 4e15), (2, 1.3e15), (3, 2.4e14), (4, 4e13), (5, 6.8e12), (6, 1.7e11), (7, 1.3e11), (8, 1e11),
          (9, 1.9e12), (10, 7.7e10), (11, 6.8e10), (12, 6.2e10), (13.6, 5.5e10), (16, 4.5e10), (19, 3.6e10),
          (22.5, 3.1e10), (26, 2.6e10), (30, 2.2e10), (36, 1.7e10), (43, 1.4e10), (51, 1.2e10), (60, 1e10),
          (72, 8.2e9), (86, 7e9), (106, 6e9), (125, 5.2e9), (150, 4.6e9), (175, 4.5e9), (192, 4.3e9),
          (224, 3.5e9), (260, 3.3e9), (300, 2.6e9), (350, 2.5e9), (399, 2e9), (466, 2e9), (530, 1.5e9),
          (600, 1.6e9), (680, 1.2e9), (760, 1.25e9), (845, 9.5e8), (950, 1e9), (1070, 7.5e8), (1200, 8e8),
          (1350, 6e8), (1520, 6.5e8), (1750, 5e8), (2000, 5.2e8), (2250, 3.8e8), (2550, 4e8), (2900, 2.8e8),
          (3250, 3.2e8), (3630, 2.4e8), (4100, 2.6e8), (4600, 1.8e8), (5200, 2.2e8), (5900, 1.4e8),
          (6700, 1.8e8), (7700, 1.2e8), (8700, 1.6e8), (1e4, 1e8), (1.15e4, 1.5e8), (1.3e4, 9e7),
          (1.45e4, 1.4e8), (1.6e4, 1e8), (1.8e4, 1.5e8), (2e4, 8e7), (2.2e4, 1.3e8), (2.5e4, 7e7),
          (2.8e4, 1.2e8), (3.1e4, 6e7), (3.3e4, 1e8), (3.6e4, 7e7), (3.9e4, 1.1e8), (4.2e4, 5e7), (4.5e4, 9e7),
          (4.8e4, 1.3e8), (5.1e4, 1.6e8), (5.4e4, 2e8), (5.6e4, 1.5e8)]

PS_750 = [(1, 1e15), (2, 3.2e13), (3, 1.7e11), (4, 1.05e11), (5, 2.8e11), (6, 6e10), (7, 5.2e10), (8, 4.5e10),
          (10, 3.6e10), (11.6, 2.9e10), (14, 2.4e10), (17, 2e10), (20, 1.7e10), (24.6, 1.4e10), (30, 1.2e10),
          (36, 1e10), (43, 8.4e9), (51, 7e9), (60, 6e9), (72, 4.8e9), (86, 4.3e9), (106, 3.7e9), (125, 3e9),
          (150, 2.7e9), (175, 2.2e9), (192, 2e9), (224, 1.9e9), (260, 1.6e9), (300, 1.4e9), (350, 1.2e9),
          (399, 1.1e9), (466, 8e8), (530, 7.5e8), (600, 5.5e8), (680, 5.8e8), (760, 4.2e8), (845, 4e8),
          (950, 3e8), (1070, 3.2e8), (1200, 2.2e8), (1350, 2.5e8), (1520, 1.6e8), (1750, 2e8), (2000, 1.3e8),
          (2250, 1.6e8), (2550, 1e8), (2900, 1.3e8), (3250, 8e7), (3630, 1e8), (3900, 3e7), (4200, 7e7),
          (4600, 4e7), (5200, 6e7), (5900, 3e7), (6700, 5e7), (7700, 3.7e7), (8700, 4.5e7), (1e4, 2.5e7),
          (1.15e4, 4e7), (1.3e4, 2e7), (1.45e4, 3.5e7), (1.6e4, 2.2e7), (1.8e4, 3e7), (2e4, 1.5e7),
          (2.2e4, 3.5e7), (2.5e4, 2e7), (2.8e4, 5e7), (3.1e4, 3e7), (3.3e4, 6e7), (3.6e4, 4e7), (3.87e4, 8e7),
          (4.2e4, 5e7), (4.5e4, 3e7), (4.8e4, 2.6e7), (5e4, 1.2e7), (5.2e4, 5e6)]

PS_1000 = [(1, 6e13), (2, 1.66e11), (3, 7e10), (4, 5e10), (5, 4.2e10), (6, 3.6e10), (7, 3.2e10), (8, 2.9e10),
           (10, 2.4e10), (11.6, 2e10), (14, 1.7e10), (17, 1.4e10), (20, 1.2e10), (24.6, 1e10), (30, 8.5e9),
           (36, 7e9), (43, 6e9), (51, 5e9), (60, 4.2e9), (72, 3.2e9), (86, 2.9e9), (106, 2.2e9), (125, 1.8e9),
           (150, 1.6e9), (175, 1.3e9), (200, 1.25e9), (224, 1e9), (260, 9e8), (300, 8e8), (350, 6e8),
           (400, 6e8), (466, 4.5e8), (530, 4.2e8), (600, 3.2e8), (680, 3.5e8), (760, 2.4e8), (845, 2.6e8),
           (950, 1.8e8), (1070, 2e8), (1200, 1.4e8), (1350, 1.6e8), (1520, 1.05e8), (1750, 1.3e8), (2000, 8e7),
           (2250, 1e8), (2550, 6e7), (2900, 8.5e7), (3250, 5e7), (3630, 7e7), (4100, 4.2e7), (4600, 6e7),
           (5200, 3.5e7), (5900, 5.5e7), (6700, 3.3e7), (7700, 5e7), (8700, 3e7), (1e4, 4.5e7), (1.15e4, 2.6e7),
           (1.3e4, 4e7), (1.45e4, 2.5e7), (1.6e4, 3.7e7), (1.8e4, 2.5e7), (2e4, 4.5e7), (2.2e4, 3e7),
           (2.5e4, 5.5e7), (2.8e4, 3.5e7), (3.1e4, 6e7), (3.3e4, 4e7), (3.6e4, 7e7), (3.87e4, 8.5e7),
           (4.2e4, 5e7), (4.5e4, 7e7), (4.8e4, 4e7), (5.1e4, 3e7), (5.4e4, 1.3e7), (5.6e4, 5e6)]

PS_BANDS = [(607, 1406), (80.5, 106), None, None, None, None, None, None, None]

NS_SERIES = [NS_50, NS_120, NS_180, NS_220, NS_320, NS_420, NS_520, NS_700]
PS_SERIES = [PS_50, PS_120, PS_180, PS_220, PS_320, PS_420, PS_520, PS_750, PS_1000]

# ---------------- figure ----------------
W, H = 1144, 510
L, R, T, B = 97, 1, 42, 61
PLOT_W = W - L - R
PLOT_H = H - T - B
SPLIT = 622  # pixel where the two panels meet


def px(xp):
    return (xp - L) / PLOT_W


def py(yp):
    return 1 - (yp - T) / PLOT_H


FONT = "DejaVu Serif"
fig = go.Figure()


def add_series(data, band, col, xa, ya):
    """Draw a series; inside its spike band use a vertical-step line so every flip is a vertical stroke."""
    if band is None:
        parts = [(data, "linear")]
    else:
        lo, hi = band
        head = [p for p in data if p[0] < lo]
        mid = [p for p in data if lo <= p[0] <= hi]
        tail = [p for p in data if p[0] > hi]
        parts = [(head + mid[:1], "linear"), (mid, "vh"), (mid[-1:] + tail, "linear")]
    for pts, shape in parts:
        if len(pts) < 2:
            continue
        fig.add_trace(go.Scatter(x=[p[0] for p in pts], y=[p[1] for p in pts], mode="lines",
                                 line=dict(color=col, width=1.3, shape=shape), xaxis=xa, yaxis=ya,
                                 showlegend=False, hoverinfo="skip"))


for data, band, col in zip(NS_SERIES, NS_BANDS, NS_COLORS):
    add_series(data, band, col, "x", "y")
for data, band, col in zip(PS_SERIES, PS_BANDS, PS_COLORS):
    add_series(data, band, col, "x2", "y2")

MINOR_X = [k * 10 ** d for d in range(0, 5) for k in range(2, 10)]
MINOR_Y = [k * 10 ** d for d in range(7, 16) for k in range(2, 10)]

axis_common = dict(type="log", showgrid=False, zeroline=False, showline=True, linecolor="black",
                   linewidth=1.5, mirror="allticks", ticks="inside", ticklen=11, tickwidth=1,
                   tickcolor="black", automargin=False,
                   tickfont=dict(family=FONT, size=20, color="black"))

split_frac = px(SPLIT)
fig.update_layout(
    width=W, height=H, autosize=False,
    margin=dict(l=L, r=R, t=T, b=B, pad=0, autoexpand=False),
    paper_bgcolor="white", plot_bgcolor="white",
    font=dict(family=FONT, size=19, color="black"),
    xaxis=dict(axis_common, domain=[0, split_frac], range=[0, 5], tickvals=X_TICKS, ticktext=X_TICKTEXT,
               anchor="y",
               minor=dict(ticks="inside", ticklen=6, tickcolor="black", tickvals=MINOR_X)),
    xaxis2=dict(axis_common, domain=[split_frac, 1], range=[0, 5], tickvals=X_TICKS, showticklabels=False,
                anchor="y2",
                minor=dict(ticks="inside", ticklen=6, tickcolor="black", tickvals=MINOR_X)),
    yaxis=dict(axis_common, range=[7, 16], tickvals=Y_TICKS, ticktext=Y_TICKTEXT, anchor="x",
               ticklabelstandoff=6,
               minor=dict(ticks="inside", ticklen=6, tickcolor="black", tickvals=MINOR_Y)),
    yaxis2=dict(axis_common, range=[7, 16], tickvals=Y_TICKS, showticklabels=False, anchor="x2",
                minor=dict(ticks="inside", ticklen=6, tickcolor="black", tickvals=MINOR_Y)),
)

ann = []
ann.append(dict(text="<b>Acetone</b>", x=px(622), y=py(14), xref="paper", yref="paper",
                showarrow=False, xanchor="center", yanchor="middle", font=dict(size=18)))
ann.append(dict(text="Nanosecond Data", x=px(360), y=py(28), xref="paper", yref="paper",
                showarrow=False, xanchor="center", yanchor="middle", font=dict(size=20)))
ann.append(dict(text="Picosecond Data", x=px(885), y=py(28), xref="paper", yref="paper",
                showarrow=False, xanchor="center", yanchor="middle", font=dict(size=20)))
ann.append(dict(text="Number of samples averaged", x=px(360), y=py(494), xref="paper", yref="paper",
                showarrow=False, xanchor="center", yanchor="middle", font=dict(size=20.5)))
ann.append(dict(text="Allan Variance (Hz<sup>2</sup>)", x=px(22), y=py(240), xref="paper", yref="paper",
                showarrow=False, xanchor="center", yanchor="middle", textangle=-90, font=dict(size=21)))

shapes = []
ROW0, ROWSTEP = 321.7, 14.16
LEG_FONT = 17.5
for i, (lab, col) in enumerate(zip(NS_LABELS, NS_COLORS)):
    yy = ROW0 + i * ROWSTEP
    ann.append(dict(text=lab, x=px(203), y=py(yy), xref="paper", yref="paper", showarrow=False,
                    xanchor="right", yanchor="middle", font=dict(size=LEG_FONT)))
    shapes.append(dict(type="line", xref="paper", yref="paper", x0=px(208), x1=px(225), y0=py(yy), y1=py(yy),
                       line=dict(color=col, width=1.5)))
for i, (lab, col) in enumerate(zip(PS_LABELS, PS_COLORS)):
    yy = ROW0 + i * ROWSTEP
    ann.append(dict(text=lab, x=px(728), y=py(yy), xref="paper", yref="paper", showarrow=False,
                    xanchor="right", yanchor="middle", font=dict(size=LEG_FONT)))
    shapes.append(dict(type="line", xref="paper", yref="paper", x0=px(733), x1=px(750), y0=py(yy), y1=py(yy),
                       line=dict(color=col, width=1.5)))

fig.update_layout(annotations=ann, shapes=shapes)
fig.write_html("out.html")
